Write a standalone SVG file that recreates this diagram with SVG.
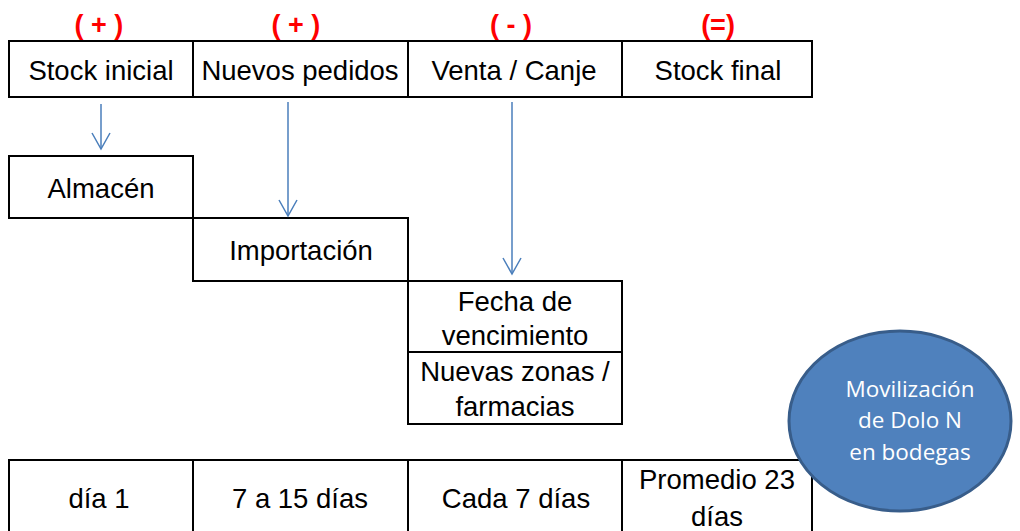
<svg xmlns="http://www.w3.org/2000/svg" width="1020" height="531" viewBox="0 0 1020 531">
<defs>
<style>
.box{fill:#fff;stroke:#000;stroke-width:2}
.t{font-family:"Liberation Sans",Arial,sans-serif;font-size:27.5px;fill:#000;text-anchor:middle}
.s{font-family:"Liberation Sans",Arial,sans-serif;font-size:27px;font-weight:bold;fill:#ff0000;text-anchor:middle}
.c{fill:none;stroke:#4A7EBB;stroke-width:1.5}
.e{font-family:"Open Sans","Liberation Sans",sans-serif;font-size:22.5px;fill:#fff;text-anchor:middle}
</style>
<marker id="ah" markerWidth="20" markerHeight="20" refX="18" refY="10" orient="auto" markerUnits="userSpaceOnUse" viewBox="0 0 20 20">
<path d="M2,1 L18,10 L2,19" fill="none" stroke="#4A7EBB" stroke-width="1.5"/>
</marker>
</defs>
<rect width="1020" height="531" fill="#fff"/>
<g id="signs">
<text class="s" x="99" y="34">( + )</text>
<text class="s" x="296" y="34">( + )</text>
<text class="s" x="511" y="34">( - )</text>
<text class="s" x="718" y="34">(=)</text>
</g>
<g id="stock-inicial"><rect class="box" x="9" y="41" width="184" height="56"/><text class="t" x="101" y="80">Stock inicial</text></g>
<g id="nuevos-pedidos"><rect class="box" x="193" y="41" width="215" height="56"/><text class="t" x="300" y="80">Nuevos pedidos</text></g>
<g id="venta-canje"><rect class="box" x="408" y="41" width="214" height="56"/><text class="t" x="514" y="80">Venta / Canje</text></g>
<g id="stock-final"><rect class="box" x="622" y="41" width="190" height="56"/><text class="t" x="718" y="80">Stock final</text></g>
<g id="almacen"><rect class="box" x="9" y="156" width="184" height="62"/><text class="t" x="101" y="198">Almacén</text></g>
<g id="importacion"><rect class="box" x="193" y="218" width="215" height="63"/><text class="t" x="301" y="260">Importación</text></g>
<g id="fecha-vencimiento"><rect class="box" x="408" y="281" width="214" height="71"/><text class="t" x="515" y="311">Fecha de</text><text class="t" x="515" y="345">vencimiento</text></g>
<g id="nuevas-zonas"><rect class="box" x="408" y="352" width="214" height="72"/><text class="t" x="515" y="381">Nuevas zonas /</text><text class="t" x="515" y="416">farmacias</text></g>
<g id="dia1"><rect class="box" x="9" y="460" width="184" height="80"/><text class="t" x="99" y="508">día 1</text></g>
<g id="d7-15"><rect class="box" x="193" y="460" width="215" height="80"/><text class="t" x="300" y="508">7 a 15 días</text></g>
<g id="cada7"><rect class="box" x="408" y="460" width="214" height="80"/><text class="t" x="516" y="508">Cada 7 días</text></g>
<g id="promedio"><rect class="box" x="622" y="460" width="190" height="80"/><text class="t" x="717" y="489">Promedio 23</text><text class="t" x="717" y="526">días</text></g>
<g id="connectors">
<line class="c" x1="101" y1="104" x2="101" y2="149" marker-end="url(#ah)"/>
<line class="c" x1="288" y1="102" x2="288" y2="216" marker-end="url(#ah)"/>
<line class="c" x1="512" y1="102" x2="512" y2="274" marker-end="url(#ah)"/>
</g>
<g id="movilizacion">
<ellipse cx="900" cy="421" rx="111" ry="90" fill="#4F81BD" stroke="#385D8A" stroke-width="3"/>
<text class="e" x="910" y="397">Movilización</text>
<text class="e" x="910" y="428">de Dolo N</text>
<text class="e" x="910" y="460">en bodegas</text>
</g>
</svg>
